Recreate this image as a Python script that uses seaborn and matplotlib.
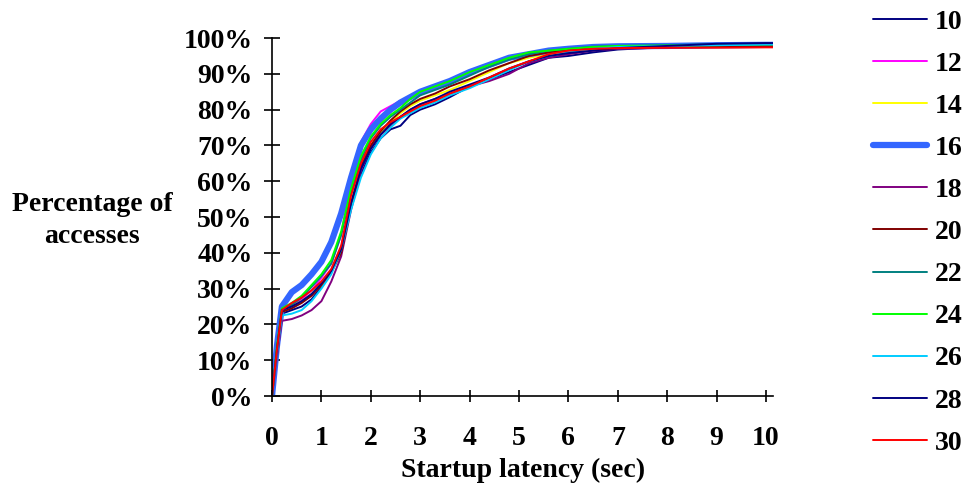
import numpy as np
import pandas as pd
import matplotlib
matplotlib.use("Agg")
import matplotlib.pyplot as plt
from matplotlib.lines import Line2D
from matplotlib.ticker import FuncFormatter
import seaborn as sns

sns.set_style("white")
plt.rcParams["font.family"] = ["Liberation Serif", "DejaVu Serif"]
plt.rcParams["font.weight"] = "bold"
plt.rcParams["text.color"] = "black"
plt.rcParams["xtick.color"] = "black"
plt.rcParams["ytick.color"] = "black"

# ── datos ──────────────────────────────────────────────────────────────────────
latency = [0, 0.1, 0.2, 0.4, 0.6, 0.8, 1.0, 1.2, 1.4, 1.6, 1.8, 2.0, 2.2, 2.4, 2.6,
           2.8, 3.0, 3.3, 3.6, 4.0, 4.4, 4.8, 5.2, 5.6, 6.0, 6.5, 7.0, 8.0, 9.0,
           10.0, 10.15]

s10 = [0, 12, 23, 24, 25, 27, 30.5, 35, 41.5, 53, 62, 68, 72, 74.5, 75.5,
       78.5, 80, 81.5, 83.5, 86.5, 88.5, 90.5, 92.5, 94.5, 95, 96, 96.8, 97.5,
       98.3, 98.5, 98.5]
s12 = [0, 14, 24.5, 25.5, 27, 29.5, 33, 37, 45, 60, 71, 76, 79.5, 81, 82.5,
       83.5, 85, 86, 87.5, 90, 92, 94, 95.5, 96.5, 97, 97.5, 97.7, 97.7, 97.8,
       97.9, 97.9]
s14 = [0, 13, 24, 25, 26.5, 28.5, 31, 35, 41, 54, 64, 70, 73.5, 76.5, 79,
       81, 82.5, 84, 85.5, 88, 90.5, 93, 94.5, 95.5, 96.5, 97.3, 97.6, 97.7,
       97.8, 97.9, 97.9]
s16 = [0, 14, 25, 29, 31, 34, 37.5, 43, 51, 61, 70, 74.5, 77.5, 80, 82,
       83.5, 85, 86.5, 88, 90.5, 92.5, 94.5, 95.5, 96.5, 97, 97.5, 97.7, 97.8,
       98, 98.1, 98.1]
s18 = [0, 11, 21, 21.5, 22.5, 24, 26.5, 32, 39, 52, 63, 69.5, 73, 75.5, 78,
       80, 81.5, 83, 84.5, 86.5, 88, 90, 93, 94.5, 95.5, 96.5, 97, 97.3, 97.5,
       97.6, 97.6]
s20 = [0, 13, 23.5, 24.5, 26, 28, 31, 34.5, 40, 53, 64, 70, 74, 77, 79.5,
       81.5, 83, 84.5, 86.5, 88.5, 91, 93, 95, 96, 96.8, 97.3, 97.5, 97.6,
       97.7, 97.8, 97.8]
s22 = [0, 13, 24, 25.5, 27.5, 30.5, 33.5, 37, 45, 57, 66, 72, 75.5, 78, 80,
       82, 84, 85.5, 87, 89.5, 92, 94, 95.5, 96.5, 97, 97.6, 97.8, 98, 98.3,
       98.4, 98.4]
s24 = [0, 14, 24.5, 26, 28, 31, 34, 38, 46, 58, 67, 72.5, 76, 78.5, 80.5,
       83, 85, 86.5, 88, 90.5, 92.5, 94.5, 96, 96.5, 97, 97.5, 97.8, 97.9, 98,
       98.2, 98.2]
s26 = [0, 12, 22.5, 23, 24, 26.5, 30, 34, 41, 52, 61, 67.5, 72, 75, 77.5,
       79, 80.5, 82, 84, 86, 88.5, 91, 93.5, 95, 96, 97, 97.5, 97.8, 98, 98.2,
       98.2]
s28 = [0, 13, 24, 25, 26.5, 28.5, 31.5, 35, 41, 54, 63.5, 69, 73, 76, 78,
       80, 81.5, 83, 85, 87, 89, 91.5, 93.5, 95, 95.8, 96.5, 97.2, 97.8, 98.4,
       98.6, 98.6]
s30 = [0, 13, 24, 26, 27.5, 29.5, 32, 35.5, 42, 56, 65, 71, 74.5, 76.5, 78,
       79.5, 81, 82.5, 84.5, 86.5, 89, 91.5, 93.5, 95.5, 96.5, 97, 97.2, 97.3,
       97.3, 97.4, 97.4]

SERIES = {"10": s10, "12": s12, "14": s14, "16": s16, "18": s18, "20": s20,
          "22": s22, "24": s24, "26": s26, "28": s28, "30": s30}

COLORS = {"10": "#000080", "12": "#FF00FF", "14": "#FFFF00", "16": "#3366FF",
          "18": "#800080", "20": "#800000", "22": "#008080", "24": "#00FF00",
          "26": "#00CCFF", "28": "#000080", "30": "#FF0000"}
WIDTHS = {k: (4.5 if k == "16" else 1.4) for k in SERIES}

df = pd.concat([pd.DataFrame({"latency": latency, "pct": v, "serie": k})
                for k, v in SERIES.items()], ignore_index=True)

FS = 20

# ── figura ─────────────────────────────────────────────────────────────────────
fig = plt.figure(figsize=(9.68, 4.88), dpi=100)
ax = fig.add_axes([0.281, 0.1885, 0.518, 0.7335])

sns.lineplot(data=df, x="latency", y="pct", hue="serie", size="serie",
             palette=COLORS, sizes=WIDTHS, hue_order=list(SERIES),
             size_order=list(SERIES), legend=False, ax=ax, estimator=None)

ax.set_xlim(0, 10.15)
ax.set_ylim(0, 100)
ax.set_xticks(range(0, 11))
ax.set_yticks(range(0, 101, 10))
ax.yaxis.set_major_formatter(FuncFormatter(lambda v, p: f"{v:.0f}%"))
for sp in ["top", "right"]:
    ax.spines[sp].set_visible(False)
for sp in ["left", "bottom"]:
    ax.spines[sp].set_color("black")
    ax.spines[sp].set_linewidth(1.2)
ax.tick_params(axis="y", left=True, direction="inout", length=12, width=1.2,
               pad=8, labelsize=FS, color="black", labelcolor="black")
ax.tick_params(axis="x", bottom=True, direction="inout", length=9, width=1.2,
               pad=17, labelsize=FS, color="black", labelcolor="black")
for lab in ax.get_xticklabels() + ax.get_yticklabels():
    lab.set_fontweight("bold")

ax.set_xlabel("Startup latency (sec)", fontsize=FS, fontweight="bold",
              labelpad=5, color="black")
ax.set_ylabel("")
fig.text(0.095, 0.548, "Percentage of\naccesses", fontsize=FS, fontweight="bold",
         ha="center", va="center", linespacing=1.4)

handles = [Line2D([], [], color=COLORS[k], lw=WIDTHS[k]) for k in SERIES]
leg = fig.legend(handles, list(SERIES), loc="upper left",
                 bbox_to_anchor=(0.89, 1.004), frameon=False, fontsize=FS,
                 handlelength=1.95, handletextpad=0.3, labelspacing=0.6,
                 borderaxespad=0)
for t in leg.get_texts():
    t.set_fontweight("bold")

fig.savefig("out.png", dpi=100)
